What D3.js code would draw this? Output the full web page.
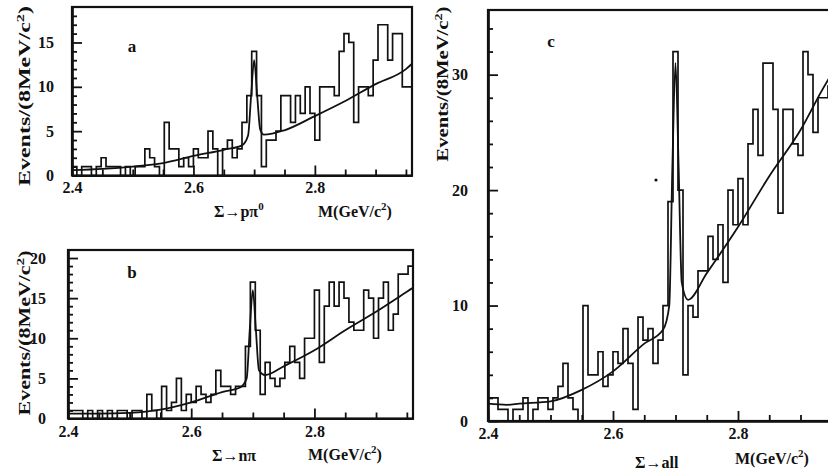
<!DOCTYPE html>
<html><head><meta charset="utf-8">
<script src="https://cdn.jsdelivr.net/npm/d3@7"></script>
<style>body{margin:0;background:#fff}svg{display:block}</style>
</head><body>
<svg id="chart" width="828" height="476"></svg>
<script>
// ---- data ----
const binStart = 2.4;
const binWidth = 0.008;
const xTickLabels = [2.4, 2.6, 2.8];
const xMinorTicks = [2.45, 2.5, 2.55, 2.65, 2.7, 2.75, 2.85, 2.9, 2.95];

const countsA = [1,0,1,1,0,1,2, 1,1,1,0,1,0,1,1, 3,2,1,0,6,3,3,1, 2,1,3,2,2,5,3,0,
  3,4,2,3,6,9,14,9, 1,4,4,5,9,9,6,9, 7,10,7,4,10,10,10,9, 14,16,15,6,10,10,9,13, 17,17,13,16,16,10,10];
const countsB = [1,1,1,0,1,0,1,0,1,0,1,1,0,1,1,0, 3,1,0,4,1,2,5,1, 3,2,4,3,2,3,6,4,
  4,3,4,4,9,17,11,3, 7,5,4,5,7,9,7,5, 10,10,16,7,14,17,14,17, 15,12,11,11,16,15,10,15, 17,11,13,18,18,19];
const countsC = [2,2,1,1,0,1,1,2,0,1,2,2,1,2,3,5, 2,1,0,10,4,4,6,3, 4,6,5,8,5,1,9,7,
  8,5,7,10,19,32,20,4, 10,9,13,13,16,14,17,12, 20,17,21,17,24,27,23,31, 31,27,18,27,27,24,23,32, 30,25,28,28,29,30];

const fitMassA = [2.40,2.45,2.50,2.55,2.60,2.65,2.68,2.69,2.695,2.70,2.705,2.71,2.716,2.75,2.80,2.85,2.90,2.95,2.96];
const fitA     = [0.6,0.75,1.0,1.4,2.2,2.9,3.4,4.5,9,13,9,5.2,4.6,5.1,6.7,8.4,10.3,12.0,12.6];
const fitMassB = [2.40,2.45,2.50,2.55,2.60,2.65,2.68,2.69,2.695,2.70,2.705,2.71,2.72,2.75,2.80,2.85,2.90,2.95,2.96];
const fitB     = [0.6,0.6,0.7,1.1,2.0,3.3,3.9,5,11,16,11,6,5.4,6.5,8.5,11.0,13.3,15.8,16.3];
const fitMassC = [2.40,2.43,2.45,2.50,2.55,2.60,2.65,2.68,2.69,2.695,2.70,2.705,2.71,2.72,2.75,2.80,2.85,2.90,2.935,2.96];
const fitC     = [1.5,1.4,1.5,1.7,2.7,4.3,6.7,7.9,10,22,31,22,12,10.5,12.8,16.8,21.2,25.2,28.7,31];

const yTitle = "Events/(8MeV/c";
const xTitle = "M(GeV/c";

// ---- layout ----
const panels = [
  {counts: countsA, fm: fitMassA, fv: fitA, left:72, right:412, top:7, y0:175.5, yMax:19,
   yMajor:[0,5,10,15], yMinorStep:1, letter:"a", lx:132, ly:52,
   decay:["Σ→pπ","0"], dx:214, dy:217, dlen:64, mx:318, my:217,
   tx:24, tcy:96, tlen:180, labGap:18, xlabY:6},
  {counts: countsB, fm: fitMassB, fv: fitB, left:68, right:413, top:250, y0:418.5, yMax:21,
   yMajor:[0,5,10,15,20], yMinorStep:1, letter:"b", lx:132, ly:278,
   decay:["Σ→nπ",""], dx:212, dy:461, dlen:55, mx:308, my:460,
   tx:24, tcy:333, tlen:165, labGap:22, xlabY:7},
  {counts: countsC, fm: fitMassC, fv: fitC, left:488, right:838, top:10, y0:421, yMax:35.6,
   yMajor:[0,10,20,30], yMinorStep:2, letter:"c", lx:551, ly:47,
   decay:["Σ→all",""], dx:635, dy:468, dlen:48, mx:735, my:464,
   tx:442, tcy:84, tlen:155, labGap:20, xlabY:7}
];

const svg = d3.select("#chart");
const ink = "#111";
const serif = "'Liberation Serif','DejaVu Serif',serif";

panels.forEach(p => {
  const x = d3.scaleLinear().domain([2.4, 2.96]).range([p.left, p.right]);
  const y = d3.scaleLinear().domain([0, p.yMax]).range([p.y0, p.top]);
  const g = svg.append("g");

  // frame
  g.append("rect").attr("x", p.left).attr("y", p.top)
    .attr("width", p.right - p.left).attr("height", p.y0 - p.top)
    .attr("fill", "none").attr("stroke", ink).attr("stroke-width", 2.2);

  // y axis: major ticks with labels
  g.append("g").attr("transform", `translate(${p.left},0)`)
    .call(d3.axisLeft(y).tickValues(p.yMajor).tickSizeInner(-10).tickSizeOuter(0)
      .tickPadding(p.labGap).tickFormat(d3.format("d")));
  // y minor ticks
  const minors = d3.range(0, p.yMax, p.yMinorStep).filter(v => !p.yMajor.includes(v));
  g.append("g").attr("transform", `translate(${p.left},0)`)
    .call(d3.axisLeft(y).tickValues(minors).tickSizeInner(-5).tickSizeOuter(0).tickFormat(""));

  // x axis
  g.append("g").attr("transform", `translate(0,${p.y0})`)
    .call(d3.axisBottom(x).tickValues(xTickLabels).tickSizeInner(-10).tickSizeOuter(0)
      .tickPadding(p.xlabY).tickFormat(d3.format(".1f")));
  g.append("g").attr("transform", `translate(0,${p.y0})`)
    .call(d3.axisBottom(x).tickValues(xMinorTicks).tickSizeInner(-6).tickSizeOuter(0).tickFormat(""));

  g.selectAll(".domain").attr("stroke", ink).attr("stroke-width", 2.2);
  g.selectAll(".tick line").attr("stroke", ink).attr("stroke-width", 1.8);
  g.selectAll(".tick text").attr("fill", ink).attr("font-family", serif)
    .attr("font-weight", "bold").attr("font-size", 16);

  // histogram
  const pts = [[binStart, 0]];
  p.counts.forEach((c, i) => pts.push([binStart + i * binWidth, c]));
  pts.push([binStart + p.counts.length * binWidth, p.counts[p.counts.length - 1]]);
  pts.push([binStart + p.counts.length * binWidth, 0]);
  const hist = d3.line().x(d => x(d[0])).y(d => y(d[1])).curve(d3.curveStepAfter);
  g.append("path").attr("d", hist(pts)).attr("fill", "none")
    .attr("stroke", ink).attr("stroke-width", 1.7);

  // fit curve
  const fit = d3.line().x(d => x(d[0])).y(d => y(d[1])).curve(d3.curveMonotoneX);
  g.append("path").attr("d", fit(p.fm.map((m, i) => [m, p.fv[i]])))
    .attr("fill", "none").attr("stroke", ink).attr("stroke-width", 1.8);

  // panel letter
  g.append("text").attr("x", p.lx).attr("y", p.ly).attr("text-anchor", "middle")
    .attr("font-family", serif).attr("font-weight", "bold").attr("font-size", 17)
    .attr("fill", ink).text(p.letter);

  // y title
  const yt = g.append("text")
    .attr("transform", `translate(${p.tx + 6},${p.tcy}) rotate(-90)`)
    .attr("text-anchor", "middle").attr("font-family", serif).attr("font-weight", "bold")
    .attr("font-size", 16).attr("fill", ink)
    .attr("textLength", p.tlen).attr("lengthAdjust", "spacingAndGlyphs");
  yt.append("tspan").text(yTitle);
  yt.append("tspan").attr("dy", -6).attr("font-size", 11).text("2");
  yt.append("tspan").attr("dy", 6).text(")");

  // decay label
  const dt = g.append("text").attr("x", p.dx).attr("y", p.dy)
    .attr("font-family", serif).attr("font-weight", "bold").attr("font-size", 16).attr("fill", ink);
  dt.append("tspan").text(p.decay[0]);
  if (p.decay[1]) dt.append("tspan").attr("dy", -7).attr("font-size", 11).text(p.decay[1]);

  // mass label
  const mt = g.append("text").attr("x", p.mx).attr("y", p.my)
    .attr("font-family", serif).attr("font-weight", "bold").attr("font-size", 16).attr("fill", ink);
  mt.append("tspan").text(xTitle);
  mt.append("tspan").attr("dy", -7).attr("font-size", 11).text("2");
  mt.append("tspan").attr("dy", 7).text(")");
});

// small speck in panel c of the original scan
svg.append("circle").attr("cx", 656).attr("cy", 180).attr("r", 1.6).attr("fill", ink);
</script>
</body></html>
